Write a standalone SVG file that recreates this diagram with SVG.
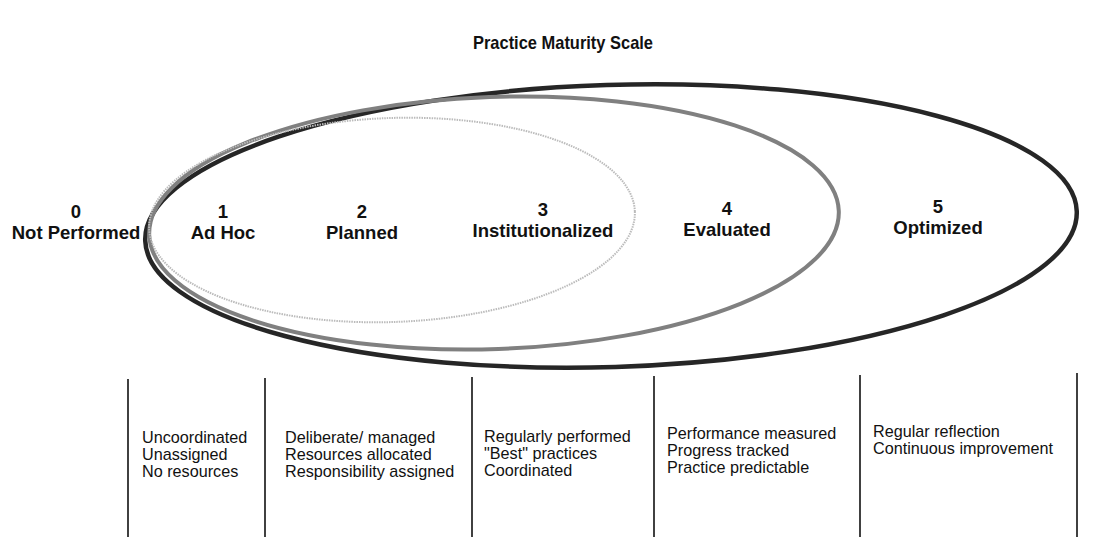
<svg xmlns="http://www.w3.org/2000/svg" width="1101" height="537" viewBox="0 0 1101 537">
<style>
.title{font-family:"Liberation Sans",Arial,sans-serif;font-weight:bold;font-size:19px;fill:#111;text-anchor:middle}
.lvl{font-family:"Liberation Sans",Arial,sans-serif;font-weight:bold;font-size:18.5px;fill:#111;text-anchor:middle}
.desc{font-family:"Liberation Sans",Arial,sans-serif;font-size:16.2px;fill:#111}
.div{stroke:#111;stroke-width:1.6}
.e5{fill:none;stroke:#262626;stroke-width:4.5}
.e4{fill:none;stroke:#808080;stroke-width:4}
.e3{fill:none;stroke:#bbb;stroke-width:2;stroke-dasharray:1.5 1}
</style>
<text class="title" x="563" y="49" textLength="180" lengthAdjust="spacingAndGlyphs">Practice Maturity Scale</text>
<g id="ellipses">
<ellipse id="scope5" class="e5" cx="611" cy="226" rx="466" ry="141" transform="rotate(-1.8 611 226)"/>
<ellipse id="scope4" class="e4" cx="494" cy="223" rx="345" ry="126" transform="rotate(-2 494 223)"/>
<ellipse id="scope3" class="e3" cx="392" cy="220" rx="243" ry="102" transform="rotate(-2 392 220)"/>
</g>
<g id="level0"><text class="lvl" x="76" y="218">0</text><text class="lvl" x="76" y="239">Not Performed</text></g>
<g id="level1"><text class="lvl" x="223" y="218">1</text><text class="lvl" x="223" y="239">Ad Hoc</text></g>
<g id="level2"><text class="lvl" x="362" y="218">2</text><text class="lvl" x="362" y="239">Planned</text></g>
<g id="level3"><text class="lvl" x="543" y="216">3</text><text class="lvl" x="543" y="237">Institutionalized</text></g>
<g id="level4"><text class="lvl" x="727" y="215">4</text><text class="lvl" x="727" y="236">Evaluated</text></g>
<g id="level5"><text class="lvl" x="938" y="213">5</text><text class="lvl" x="938" y="234">Optimized</text></g>
<g id="dividers">
<line class="div" x1="128" y1="379" x2="128" y2="537"/>
<line class="div" x1="265" y1="378" x2="265" y2="537"/>
<line class="div" x1="472" y1="377" x2="472" y2="537"/>
<line class="div" x1="654" y1="376" x2="654" y2="537"/>
<line class="div" x1="860" y1="375" x2="860" y2="537"/>
<line class="div" x1="1077" y1="373" x2="1077" y2="537"/>
</g>
<g id="desc1"><text class="desc" x="142" y="443">Uncoordinated</text><text class="desc" x="142" y="460">Unassigned</text><text class="desc" x="142" y="477">No resources</text></g>
<g id="desc2"><text class="desc" x="285" y="443">Deliberate/ managed</text><text class="desc" x="285" y="460">Resources allocated</text><text class="desc" x="285" y="477">Responsibility assigned</text></g>
<g id="desc3"><text class="desc" x="484" y="442">Regularly performed</text><text class="desc" x="484" y="459">"Best" practices</text><text class="desc" x="484" y="476">Coordinated</text></g>
<g id="desc4"><text class="desc" x="667" y="439">Performance measured</text><text class="desc" x="667" y="456">Progress tracked</text><text class="desc" x="667" y="473">Practice predictable</text></g>
<g id="desc5"><text class="desc" x="873" y="437">Regular reflection</text><text class="desc" x="873" y="454">Continuous improvement</text></g>
</svg>
